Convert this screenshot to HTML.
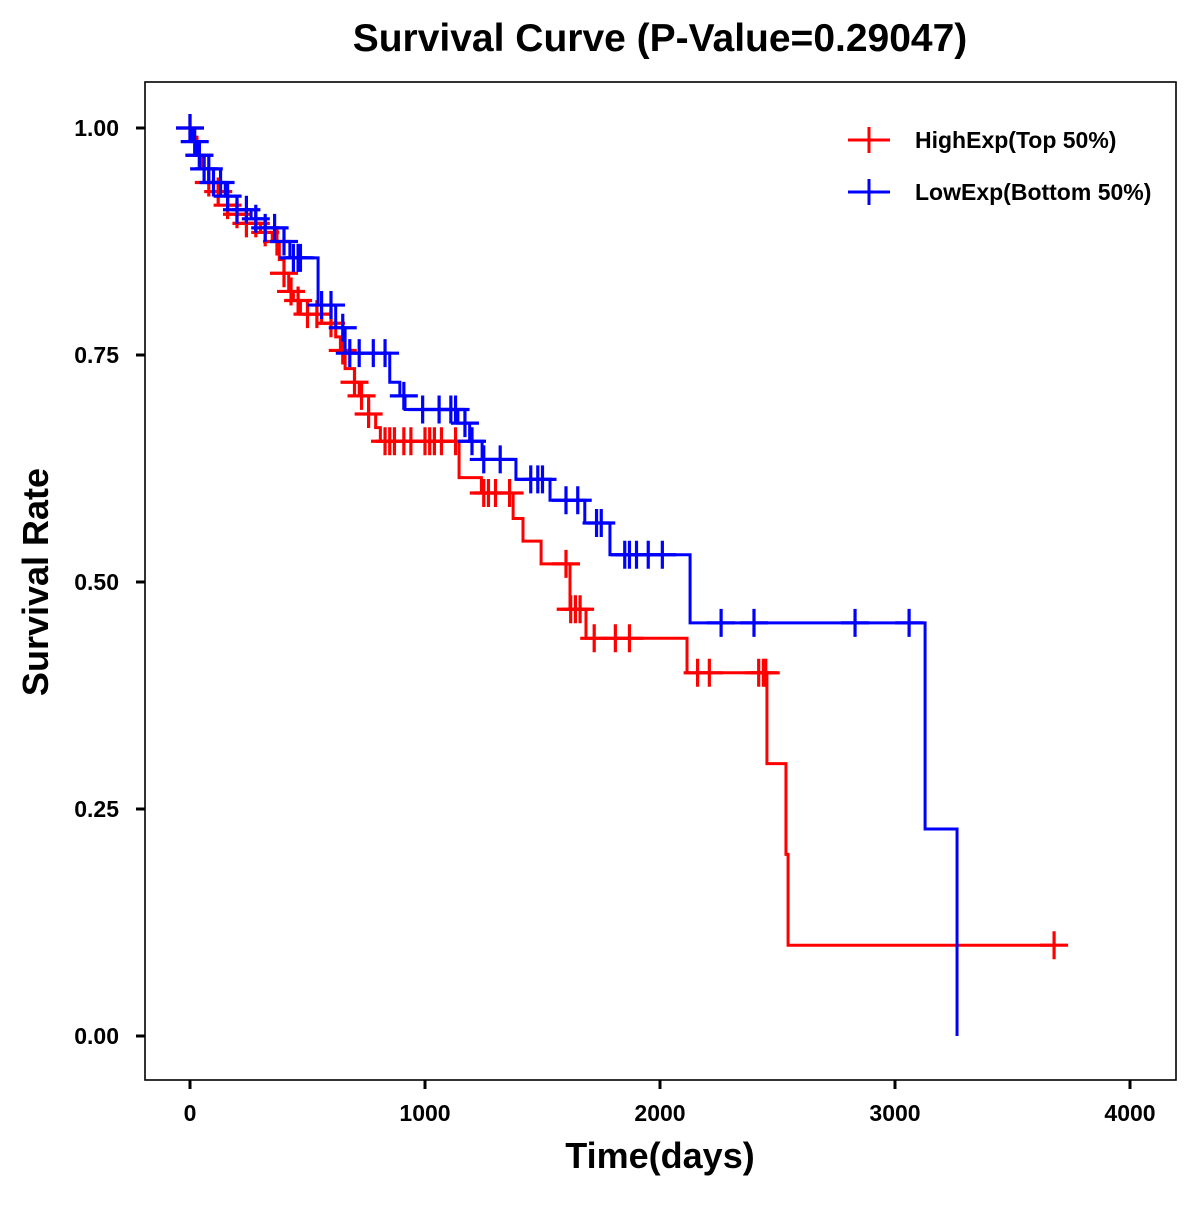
<!DOCTYPE html>
<html><head><meta charset="utf-8"><style>
body{margin:0;background:#fff}
svg text{font-family:"Liberation Sans",Arial,sans-serif;font-weight:bold}
</style></head><body>
<svg id="chart" width="1200" height="1200" viewBox="0 0 1200 1200" xmlns="http://www.w3.org/2000/svg">
<rect width="1200" height="1200" fill="#fff"/>
<text x="660" y="51" font-size="39" text-anchor="middle">Survival Curve (P-Value=0.29047)</text>
<g id="plot"></g>
<rect x="145" y="82" width="1031" height="998" fill="none" stroke="#000" stroke-width="1.6"/>
<g id="axes"></g>
<text x="660" y="1168" font-size="36" text-anchor="middle">Time(days)</text>
<text x="0" y="0" font-size="36" text-anchor="middle" transform="translate(48,582) rotate(-90)">Survival Rate</text>
<g>
<g><line x1="848" y1="140" x2="890" y2="140" stroke="#f00" stroke-width="3"/><line x1="869" y1="127" x2="869" y2="153" stroke="#f00" stroke-width="3"/><text x="915" y="148" font-size="23">HighExp(Top 50%)</text></g>
<g><line x1="848" y1="192" x2="890" y2="192" stroke="#00f" stroke-width="3"/><line x1="869" y1="179" x2="869" y2="205" stroke="#00f" stroke-width="3"/><text x="915" y="200" font-size="23">LowExp(Bottom 50%)</text></g>
</g>
</svg>
<script>
const xTicks=[0,1000,2000,3000,4000];
const yTicks=[0,0.25,0.5,0.75,1];
const yTickLabels=["0.00","0.25","0.50","0.75","1.00"];
const highTimes=[0,10,30,50,80,120,160,200,240,300,350,380,400,420,440,470,560,620,640,660,700,720,760,790,810,1145,1240,1375,1417,1494,1617,1685,2115,2455,2536,2545];
const highSurv=[1,0.99,0.97,0.955,0.94,0.93,0.915,0.905,0.895,0.885,0.875,0.855,0.84,0.82,0.81,0.795,0.785,0.77,0.755,0.735,0.72,0.705,0.685,0.67,0.655,0.615,0.598,0.57,0.545,0.52,0.47,0.438,0.40,0.30,0.20,0.10];
const highEnd=3677;
const highCensor=[0,40,80,120,160,200,240,280,320,370,400,430,460,500,540,600,650,700,730,760,830,850,870,910,940,1000,1020,1040,1070,1130,1250,1270,1300,1360,1600,1620,1640,1660,1720,1810,1870,2160,2210,2420,2440,2450,3677];
const lowTimes=[0,10,30,60,100,150,200,260,320,400,425,545,620,660,850,893,915,1140,1190,1243,1387,1532,1680,1787,2128,3128,3264];
const lowSurv=[1,0.985,0.97,0.955,0.94,0.925,0.91,0.9,0.89,0.875,0.857,0.805,0.78,0.752,0.72,0.705,0.69,0.675,0.655,0.635,0.613,0.59,0.565,0.53,0.455,0.228,0];
const lowEnd=3264;
const lowCensor=[0,20,40,60,80,100,130,160,200,240,280,320,360,400,440,460,470,560,600,650,680,720,780,830,910,990,1060,1110,1130,1170,1200,1250,1320,1450,1480,1500,1600,1650,1730,1750,1850,1870,1900,1950,2010,2260,2400,2830,3060];

const X=d=>190+d*0.235, Y=s=>1036-s*908;
const NS="http://www.w3.org/2000/svg";
const plot=document.getElementById('plot'), axes=document.getElementById('axes');
function mk(tag,attrs,parent){const e=document.createElementNS(NS,tag);for(const k in attrs)e.setAttribute(k,attrs[k]);parent.appendChild(e);return e;}
function survAt(times,surv,t){let s=surv[0];for(let i=0;i<times.length;i++){if(times[i]<=t)s=surv[i];}return s;}
function drawSeries(times,surv,end,cens,color,name){
  let d="M"+X(times[0])+","+Y(surv[0]);
  for(let i=1;i<times.length;i++){d+=" H"+X(times[i])+" V"+Y(surv[i]);}
  d+=" H"+X(end);
  const p=mk('path',{d:d,fill:'none',stroke:color,'stroke-width':3},plot);
  
  
  cens.forEach(t=>{
    const s=survAt(times,surv,t);
    const g=mk('path',{d:"M"+(X(t)-14)+","+Y(s)+" h28 M"+X(t)+","+(Y(s)-14)+" v28",stroke:color,'stroke-width':3.2,fill:'none'},plot);
    
    
  });
}
drawSeries(highTimes,highSurv,highEnd,highCensor,'#f00','high-exp');
drawSeries(lowTimes,lowSurv,lowEnd,lowCensor,'#00f','low-exp');
xTicks.forEach(t=>{
  const l=mk('line',{x1:X(t),x2:X(t),y1:1080,y2:1089,stroke:'#000','stroke-width':3},axes);
  
  
  const tx=mk('text',{x:X(t),y:1121,'font-size':23,'text-anchor':'middle'},axes);
  tx.textContent=t;
  
  
});
yTicks.forEach((v,i)=>{
  const l=mk('line',{x1:136,x2:145,y1:Y(v),y2:Y(v),stroke:'#000','stroke-width':3},axes);
  
  
  const tx=mk('text',{x:119,y:Y(v)+8,'font-size':23,'text-anchor':'end'},axes);
  tx.textContent=yTickLabels[i];
  
  
});
</script>
</body></html>
